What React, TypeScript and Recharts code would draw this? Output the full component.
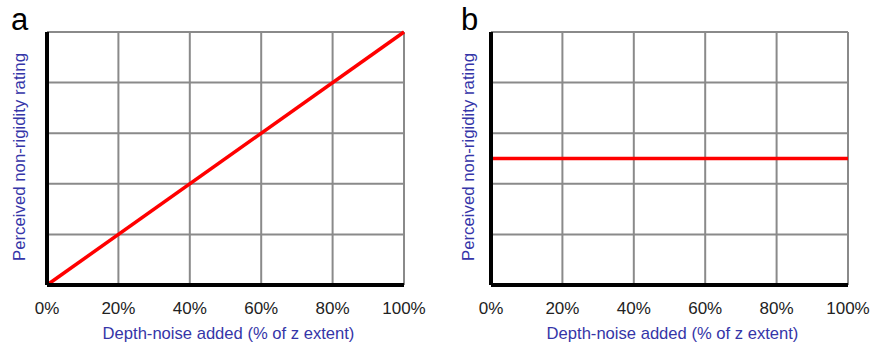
import React from "react";
import { LineChart, Line, XAxis, YAxis, CartesianGrid } from "recharts";

const xTicks = [0, 20, 40, 60, 80, 100];
const yTicks = [0, 20, 40, 60, 80, 100];
const panelALine = [
  { noise: 0, rating: 0 },
  { noise: 100, rating: 100 },
];
const panelBLine = [
  { noise: 0, rating: 50 },
  { noise: 100, rating: 50 },
];
const xLabel = "Depth-noise added (% of z extent)";
const yLabel = "Perceived non-rigidity rating";

const FONT = "'Liberation Sans', Arial, sans-serif";
const LABEL_COLOR = "#3535a8";

type PanelProps = {
  letter: string;
  data: { noise: number; rating: number }[];
  width: number;
  marginLeft: number;
  marginRight: number;
  letterX: number;
  yLabelX: number;
};

function Panel({ letter, data, width, marginLeft, marginRight, letterX, yLabelX }: PanelProps) {
  const plotCenterX = marginLeft + (width - marginLeft - marginRight) / 2;
  return (
    <LineChart
      width={width}
      height={343}
      data={data}
      margin={{ top: 32, right: marginRight, bottom: 0, left: marginLeft - 2 }}
    >
      <CartesianGrid stroke="#8a8a8a" strokeWidth={2} />
      <XAxis
        dataKey="noise"
        type="number"
        domain={[0, 100]}
        ticks={xTicks}
        tickFormatter={(v: number) => `${v}%`}
        tickLine={false}
        tickMargin={11}
        height={58}
        axisLine={{ stroke: "#000", strokeWidth: 4 }}
        tick={{ fill: "#222", fontSize: 17, fontFamily: FONT }}
        interval={0}
        label={{
          content: () => (
            <text
              x={plotCenterX + 3}
              y={339}
              textAnchor="middle"
              fill={LABEL_COLOR}
              fontSize={16.6}
              fontFamily={FONT}
            >
              {xLabel}
            </text>
          ),
        }}
      />
      <YAxis
        type="number"
        domain={[0, 100]}
        ticks={yTicks}
        tick={() => <g />}
        tickLine={false}
        width={2}
        axisLine={{ stroke: "#000", strokeWidth: 4 }}
        label={{
          content: () => (
            <g>
              <text
                x={yLabelX}
                y={157}
                transform={`rotate(-90, ${yLabelX}, 157)`}
                textAnchor="middle"
                fill={LABEL_COLOR}
                fontSize={16.8}
                fontFamily={FONT}
              >
                {yLabel}
              </text>
              <text x={letterX} y={30} fill="#000" fontSize={31} fontFamily={FONT}>
                {letter}
              </text>
            </g>
          ),
        }}
      />
      <Line
        type="linear"
        dataKey="rating"
        stroke="#ff0000"
        strokeWidth={3.5}
        dot={false}
        activeDot={false}
        isAnimationActive={false}
      />
    </LineChart>
  );
}

export default function App() {
  return (
    <div style={{ position: "absolute", left: 0, top: 0, width: 877, height: 343, background: "#fff" }}>
      <div style={{ position: "absolute", left: 0, top: 0 }}>
        <Panel
          letter="a"
          data={panelALine}
          width={440}
          marginLeft={47}
          marginRight={36}
          letterX={11}
          yLabelX={25}
        />
      </div>
      <div style={{ position: "absolute", left: 440, top: 0 }}>
        <Panel
          letter="b"
          data={panelBLine}
          width={437}
          marginLeft={51}
          marginRight={29}
          letterX={21}
          yLabelX={34}
        />
      </div>
    </div>
  );
}
